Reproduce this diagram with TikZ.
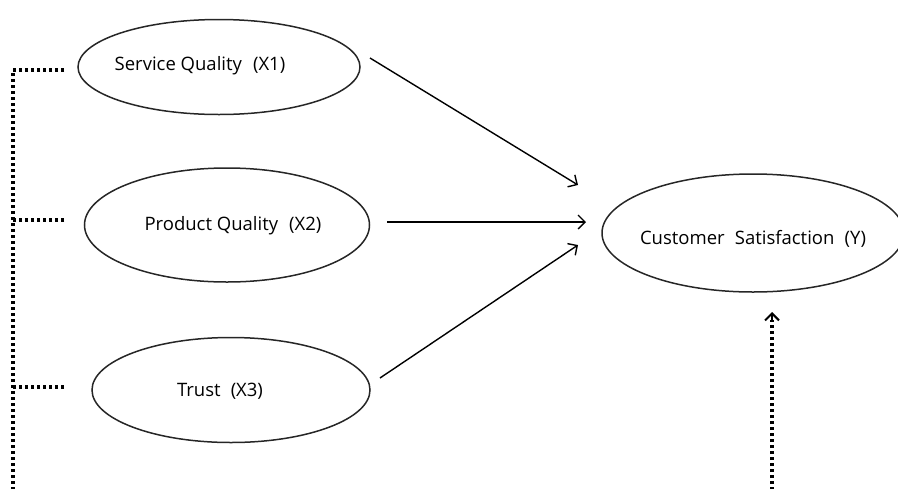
\documentclass[tikz,border=0pt]{standalone}
\usepackage{fontspec}
\setmainfont{Open Sans}
\usetikzlibrary{shapes.geometric,arrows.meta}
\begin{document}
\begin{tikzpicture}[x=1pt,y=-1pt,
  oval/.style={draw=black!85,line width=1.5pt,ellipse,inner sep=0pt},
  lbl/.style={font=\fontsize{18.5}{22}\selectfont,inner sep=0pt},
  arr/.style={line width=1.4pt,-{Straight Barb[length=7pt,width=14pt,line width=1.4pt]}},
  dots/.style={line width=3.2pt,dash pattern=on 3pt off 3pt}
]
\useasboundingbox (0,0) rectangle (898,488);
\node[oval,minimum width=282pt,minimum height=95pt] (x1) at (219,67) {};
\node[oval,minimum width=285pt,minimum height=114pt] (x2) at (227,225) {};
\node[oval,minimum width=278pt,minimum height=105pt] (x3) at (231,390) {};
\node[oval,minimum width=302pt,minimum height=118pt] (y) at (753,233) {};
\node[lbl] (t1) at (200,66) {Service Quality\hspace{0.6em}(X1)};
\node[lbl] (t2) at (233,226) {Product Quality\hspace{0.6em}(X2)};
\node[lbl] (t3) at (220,391) {Trust\hspace{0.55em}(X3)};
\node[lbl] (ty) at (753,239) {Customer\hspace{0.55em}Satisfaction\hspace{0.55em}(Y)};
\coordinate (a1s) at (370,58);
\coordinate (a1e) at (578,185);
\coordinate (a2s) at (387,222);
\coordinate (a2e) at (586,222);
\coordinate (a3s) at (380,378);
\coordinate (a3e) at (578,245);
\draw[arr] (a1s) -- (a1e);
\draw[arr] (a2s) -- (a2e);
\draw[arr] (a3s) -- (a3e);
\coordinate (l1) at (64,70);
\coordinate (l2) at (64,220);
\coordinate (l3) at (64,387);
\coordinate (c1) at (13,70);
\coordinate (c2) at (13,220);
\coordinate (c3) at (13,387);
\coordinate (bot) at (13,490);
\draw[dots] (l1) -- (c1) -- (bot);
\draw[dots] (l2) -- (c2);
\draw[dots] (l3) -- (c3);
\coordinate (ub) at (772,490);
\coordinate (ut) at (772,312);
\draw[dots] (ub) -- (772,320);
\draw[line width=2pt,-{Straight Barb[length=7pt,width=14pt,line width=2pt]}] (772,322) -- (ut);
\end{tikzpicture}
\end{document}
